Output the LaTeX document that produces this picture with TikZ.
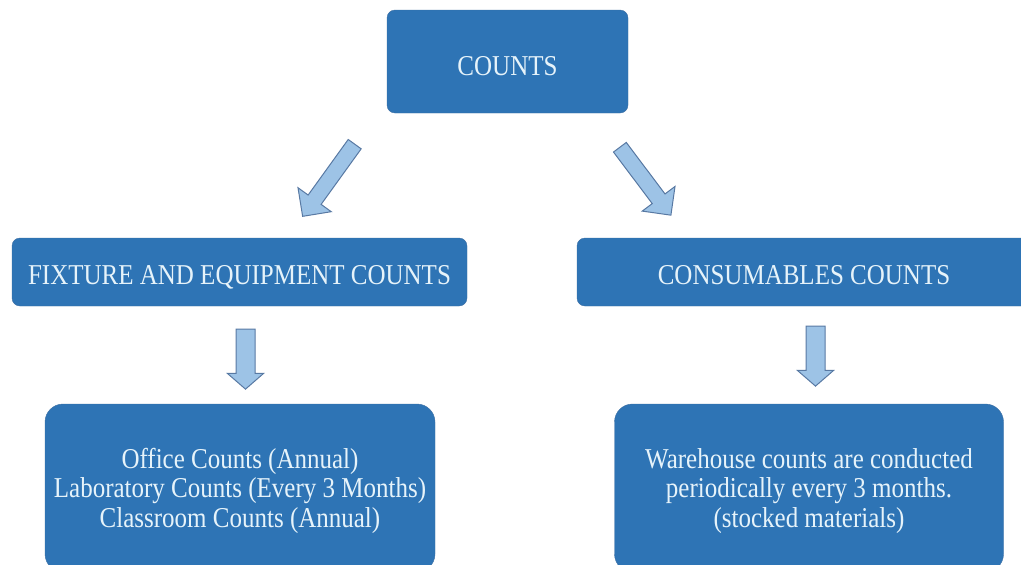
\documentclass[tikz,border=0pt]{standalone}
\usepackage{fontspec}
\setmainfont{Liberation Serif}
\usepackage{tikz}
\usetikzlibrary{shapes.arrows}
\definecolor{cntblue}{HTML}{2E74B5}
\definecolor{cntedge}{HTML}{3D6FA3}
\definecolor{cnttext}{HTML}{E6F3FA}
\definecolor{flowfill}{HTML}{9DC3E6}
\definecolor{flowedge}{HTML}{5879A3}
% taller lettering, as in the original slide
\newcommand{\tallt}[2][6pt]{\raisebox{-#1}[\height][\depth]{\scalebox{1}[1.15]{\begin{tabular}{@{}c@{}}#2\end{tabular}}}}
\tikzset{
  box/.style={rectangle,rounded corners=8pt,draw=cntedge,fill=cntblue,text=cnttext,align=center,inner sep=0pt,font=\fontsize{25}{25.5}\selectfont},
  bigbox/.style={box,rounded corners=18pt},
  flow/.style={single arrow,draw=flowedge,fill=flowfill,line width=1pt,inner xsep=0pt,minimum width=0pt,text height=0pt,text depth=0pt},
  diagflow/.style={flow,inner ysep=7.5pt,single arrow head extend=12.5pt,single arrow tip angle=90},
  downflow/.style={flow,inner ysep=9pt,single arrow head extend=8.5pt,single arrow tip angle=98,minimum height=60pt},
}
\begin{document}
\begin{tikzpicture}[x=1pt,y=-1pt]
  \useasboundingbox (0,0) rectangle (1021,565);
  \clip (0,0) rectangle (1021,565);
  \node[box,minimum width=241pt,minimum height=103pt] (counts) at (507.5,61.5) {\tallt[8.5pt]{COUNTS}};
  \node[box,minimum width=455pt,minimum height=68pt] (fixture) at (239.5,272) {\tallt[7pt]{FIXTURE AND EQUIPMENT COUNTS}};
  \node[box,minimum width=454pt,minimum height=68pt] (consum) at (804,272) {\tallt[7pt]{CONSUMABLES COUNTS}};
  \node[bigbox,minimum width=390pt,minimum height=168pt] (office) at (240,488) {\tallt[4pt]{Office Counts (Annual)\\Laboratory Counts (Every 3 Months)\\Classroom Counts (Annual)}};
  \node[bigbox,minimum width=389pt,minimum height=168pt] (warehouse) at (809,488) {\tallt[4pt]{Warehouse counts are conducted\\periodically every 3 months.\\(stocked materials)}};
  % block arrows between the levels
  \node[diagflow,minimum height=89pt,rotate=234.2] (toFixture) at (331,177) {};
  \node[diagflow,minimum height=85pt,rotate=-53.1] (toConsum) at (643,178) {};
  \node[downflow,rotate=-90] (toOffice) at (245.5,355) {};
  \node[downflow,rotate=-90] (toWarehouse) at (815.5,352) {};
\end{tikzpicture}
\end{document}
